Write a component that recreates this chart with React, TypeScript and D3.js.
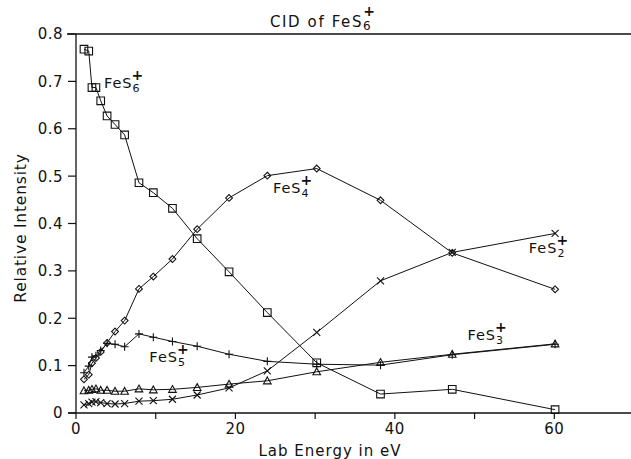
import React from 'react';
import * as d3 from 'd3';

const W = 631;
const H = 459;

// Lab energies (eV)
const energies = [1.0, 1.6, 2.0, 2.5, 3.1, 3.9, 4.9, 6.1, 7.9, 9.7, 12.1, 15.2, 19.2, 24.0, 30.2, 38.2, 47.2, 60.1];

const fes6 = [0.768, 0.764, 0.687, 0.687, 0.659, 0.627, 0.609, 0.587, 0.486, 0.465, 0.432, 0.368, 0.298, 0.212, 0.106, 0.040, 0.050, 0.007];
const fes4 = [0.071, 0.081, 0.105, 0.116, 0.129, 0.148, 0.172, 0.195, 0.262, 0.288, 0.325, 0.388, 0.454, 0.501, 0.516, 0.449, 0.338, 0.261];
const fes5 = [0.085, 0.099, 0.118, 0.121, 0.132, 0.147, 0.145, 0.140, 0.167, 0.160, 0.151, 0.141, 0.124, 0.109, 0.103, 0.101, 0.123, 0.145];
const fes3 = [0.047, 0.048, 0.050, 0.051, 0.048, 0.048, 0.046, 0.046, 0.051, 0.049, 0.050, 0.054, 0.061, 0.068, 0.087, 0.107, 0.124, 0.146];
const fes2 = [0.017, 0.020, 0.023, 0.024, 0.022, 0.020, 0.019, 0.020, 0.025, 0.026, 0.029, 0.038, 0.053, 0.089, 0.170, 0.279, 0.339, 0.379];

const xTicks = [0, 10, 20, 30, 40, 50, 60, 70];
const xTickLabels = [0, 20, 40, 60];
const yTicks = [0, 0.1, 0.2, 0.3, 0.4, 0.5, 0.6, 0.7, 0.8];

type Marker = 'square' | 'diamond' | 'plus' | 'triangle' | 'cross';

const seriesList: { name: string; sub: string; values: number[]; marker: Marker; lx: number; ly: number }[] = [
  { name: 'FeS', sub: '6', values: fes6, marker: 'square', lx: 3.5, ly: 0.686 },
  { name: 'FeS', sub: '4', values: fes4, marker: 'diamond', lx: 24.7, ly: 0.464 },
  { name: 'FeS', sub: '5', values: fes5, marker: 'plus', lx: 9.2, ly: 0.108 },
  { name: 'FeS', sub: '3', values: fes3, marker: 'triangle', lx: 49.1, ly: 0.154 },
  { name: 'FeS', sub: '2', values: fes2, marker: 'cross', lx: 56.8, ly: 0.338 },
];

const x = d3.scaleLinear().domain([0, 70]).range([76, 634]);
const y = d3.scaleLinear().domain([0, 0.8]).range([413, 34]);

const FONT = "'DejaVu Sans', Verdana, sans-serif";
const INK = '#111';

function markerPath(m: Marker, cx: number, cy: number): string {
  switch (m) {
    case 'square': {
      const s = 3.8;
      return `M${cx - s},${cy - s}h${2 * s}v${2 * s}h${-2 * s}Z`;
    }
    case 'diamond': {
      const s = 3.4;
      return `M${cx},${cy - s}L${cx + s},${cy}L${cx},${cy + s}L${cx - s},${cy}Z`;
    }
    case 'triangle': {
      const s = 3.8;
      return `M${cx},${cy - s}L${cx + s},${cy + s * 0.8}L${cx - s},${cy + s * 0.8}Z`;
    }
    case 'plus': {
      const s = 4;
      return `M${cx - s},${cy}H${cx + s}M${cx},${cy - s}V${cy + s}`;
    }
    case 'cross': {
      const s = 3.5;
      return `M${cx - s},${cy - s}L${cx + s},${cy + s}M${cx - s},${cy + s}L${cx + s},${cy - s}`;
    }
  }
}

export default function App() {
  const line = d3
    .line<[number, number]>()
    .x((d) => x(d[0]))
    .y((d) => y(d[1]));

  return (
    <svg
      width={W}
      height={H}
      viewBox={`0 0 ${W} ${H}`}
      style={{ position: 'absolute', left: 0, top: 0, background: '#fff' }}
    >
      <rect x={0} y={0} width={W} height={H} fill="#fff" />
      {/* Title */}
      <text x={270} y={27} fontFamily={FONT} fontSize={15} fill={INK} letterSpacing={1.6}>
        CID of FeS
        <tspan fontSize={12} dy={3}>6</tspan>
        <tspan fontSize={14} fontWeight="bold" dx={-9} dy={-14}>+</tspan>
      </text>

      {/* Frame: top line, left axis, bottom axis */}
      <line x1={67} x2={W} y1={y(0.8)} y2={y(0.8)} stroke={INK} strokeWidth={1.3} />
      <line x1={x(0)} x2={x(0)} y1={y(0.8)} y2={y(0)} stroke={INK} strokeWidth={1.3} />
      <line x1={68} x2={W} y1={y(0)} y2={y(0)} stroke={INK} strokeWidth={1.5} />

      {/* Y ticks */}
      {yTicks.map((t) => (
        <g key={`yt${t}`}>
          <line x1={68} x2={x(0)} y1={y(t)} y2={y(t)} stroke={INK} strokeWidth={1.2} />
          <text
            x={63}
            y={y(t)}
            dy="0.36em"
            textAnchor="end"
            fontFamily={FONT}
            fontSize={15}
            fill={INK}
            letterSpacing={0.5}
          >
            {t === 0 ? '0' : t.toFixed(1)}
          </text>
        </g>
      ))}

      {/* X ticks */}
      {xTicks.map((t) => (
        <line key={`xt${t}`} x1={x(t)} x2={x(t)} y1={y(0)} y2={y(0) + 6} stroke={INK} strokeWidth={1.2} />
      ))}
      {xTickLabels.map((t) => (
        <text
          key={`xl${t}`}
          x={x(t)}
          y={434}
          textAnchor="middle"
          fontFamily={FONT}
          fontSize={15}
          fill={INK}
          letterSpacing={0.5}
        >
          {t}
        </text>
      ))}

      {/* Axis titles */}
      <text x={330} y={456} textAnchor="middle" fontFamily={FONT} fontSize={15} fill={INK} letterSpacing={1}>
        Lab Energy in eV
      </text>
      <text
        transform={`translate(26,228) rotate(-90)`}
        textAnchor="middle"
        fontFamily={FONT}
        fontSize={15.5}
        fill={INK}
        letterSpacing={0.8}
      >
        Relative Intensity
      </text>

      {/* Series */}
      {seriesList.map((s) => {
        const pts: [number, number][] = energies.map((e, i) => [e, s.values[i]]);
        return (
          <g key={s.sub}>
            <path d={line(pts) || ''} fill="none" stroke={INK} strokeWidth={1} />
            {pts.map((p, i) => (
              <path
                key={i}
                d={markerPath(s.marker, x(p[0]), y(p[1]))}
                fill="none"
                stroke={INK}
                strokeWidth={1.1}
              />
            ))}
            <text x={x(s.lx)} y={y(s.ly)} fontFamily={FONT} fontSize={14.5} fill={INK} letterSpacing={1}>
              {s.name}
              <tspan fontSize={11} dy={4}>{s.sub}</tspan>
              <tspan fontSize={14} fontWeight="bold" dx={-9} dy={-12}>+</tspan>
            </text>
          </g>
        );
      })}
    </svg>
  );
}
